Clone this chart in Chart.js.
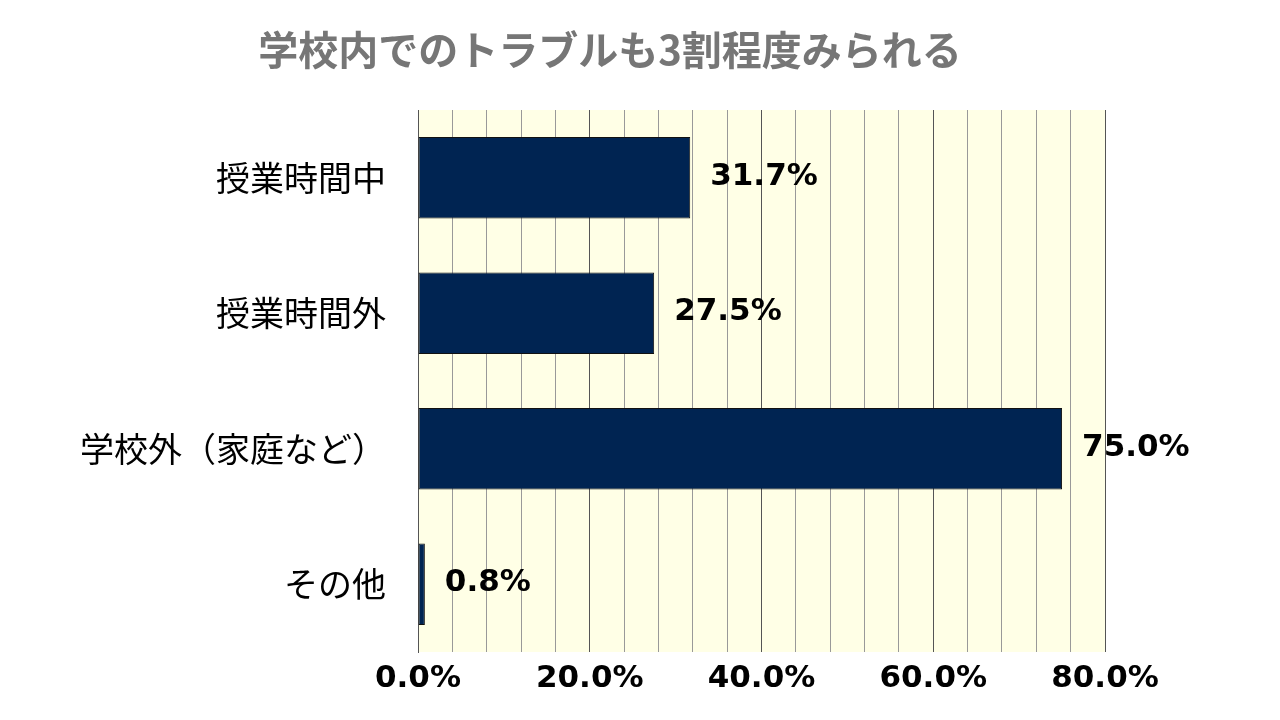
<!DOCTYPE html>
<html>
<head>
<meta charset="utf-8">
<script src="https://cdn.jsdelivr.net/npm/chart.js@4"></script>
<style>
  body { margin: 0; background: #fff; }
  #wrap { width: 1280px; height: 720px; }
</style>
</head>
<body>
<div id="wrap"><canvas id="c"></canvas></div>
<script>
const categories = ["授業時間中", "授業時間外", "学校外（家庭など）", "その他"];
const values = [31.7, 27.5, 75.0, 0.8];
const titleText = "学校内でのトラブルも3割程度みられる";

const FONT = "'Noto Sans CJK JP', 'Noto Sans', sans-serif";
const NUMFONT = "'DejaVu Sans', 'Noto Sans CJK JP', sans-serif";

const bgPlugin = {
  id: "bg",
  beforeDraw(chart) {
    const { ctx, chartArea: a } = chart;
    ctx.save();
    ctx.fillStyle = "#FFFFE6";
    ctx.fillRect(a.left, a.top, a.right - a.left, a.bottom - a.top);
    ctx.restore();
  },
  afterDraw(chart) {
    const { ctx } = chart;
    ctx.save();
    ctx.fillStyle = "#767676";
    ctx.font = "bold 40px " + FONT;
    ctx.textAlign = "center";
    ctx.textBaseline = "middle";
    ctx.fillText(titleText, 610, 50);
    // value labels
    const meta = chart.getDatasetMeta(0);
    ctx.fillStyle = "#000";
    ctx.font = "bold 31px " + NUMFONT;
    ctx.textAlign = "left";
    meta.data.forEach((bar, i) => {
      ctx.fillText(values[i].toFixed(1) + "%", bar.x + 20, bar.y - 1);
    });
    ctx.restore();
  }
};

new Chart(document.getElementById("c"), {
  type: "bar",
  data: {
    labels: categories,
    datasets: [{
      data: values,
      backgroundColor: "#002452",
      borderColor: "#111",
      borderWidth: 1,
      borderSkipped: false,
      categoryPercentage: 1,
      barPercentage: 0.6
    }]
  },
  options: {
    indexAxis: "y",
    responsive: true,
    maintainAspectRatio: false,
    animation: false,
    layout: { padding: { top: 110, right: 175, left: 0, bottom: 0 } },
    plugins: { legend: { display: false }, tooltip: { enabled: false } },
    scales: {
      x: {
        min: 0,
        max: 80,
        afterFit: (s) => { s.height = 68; },
        ticks: {
          stepSize: 4,
          autoSkip: false,
          maxRotation: 0,
          color: "#000",
          font: { family: NUMFONT, size: 31, weight: "bold" },
          padding: 8,
          callback: (v) => (v % 20 === 0 ? v.toFixed(1) + "%" : "")
        },
        grid: {
          color: (c) => (c.tick && c.tick.value % 20 === 0 ? "#555" : "#999"),
          lineWidth: 1,
          drawTicks: false
        },
        border: { display: false }
      },
      y: {
        afterFit: (s) => { s.width = 418; },
        ticks: {
          color: "#000",
          font: { family: FONT, size: 34 },
          padding: 24
        },
        grid: { display: false },
        border: { color: "#555" }
      }
    }
  },
  plugins: [bgPlugin]
});
</script>
</body>
</html>
